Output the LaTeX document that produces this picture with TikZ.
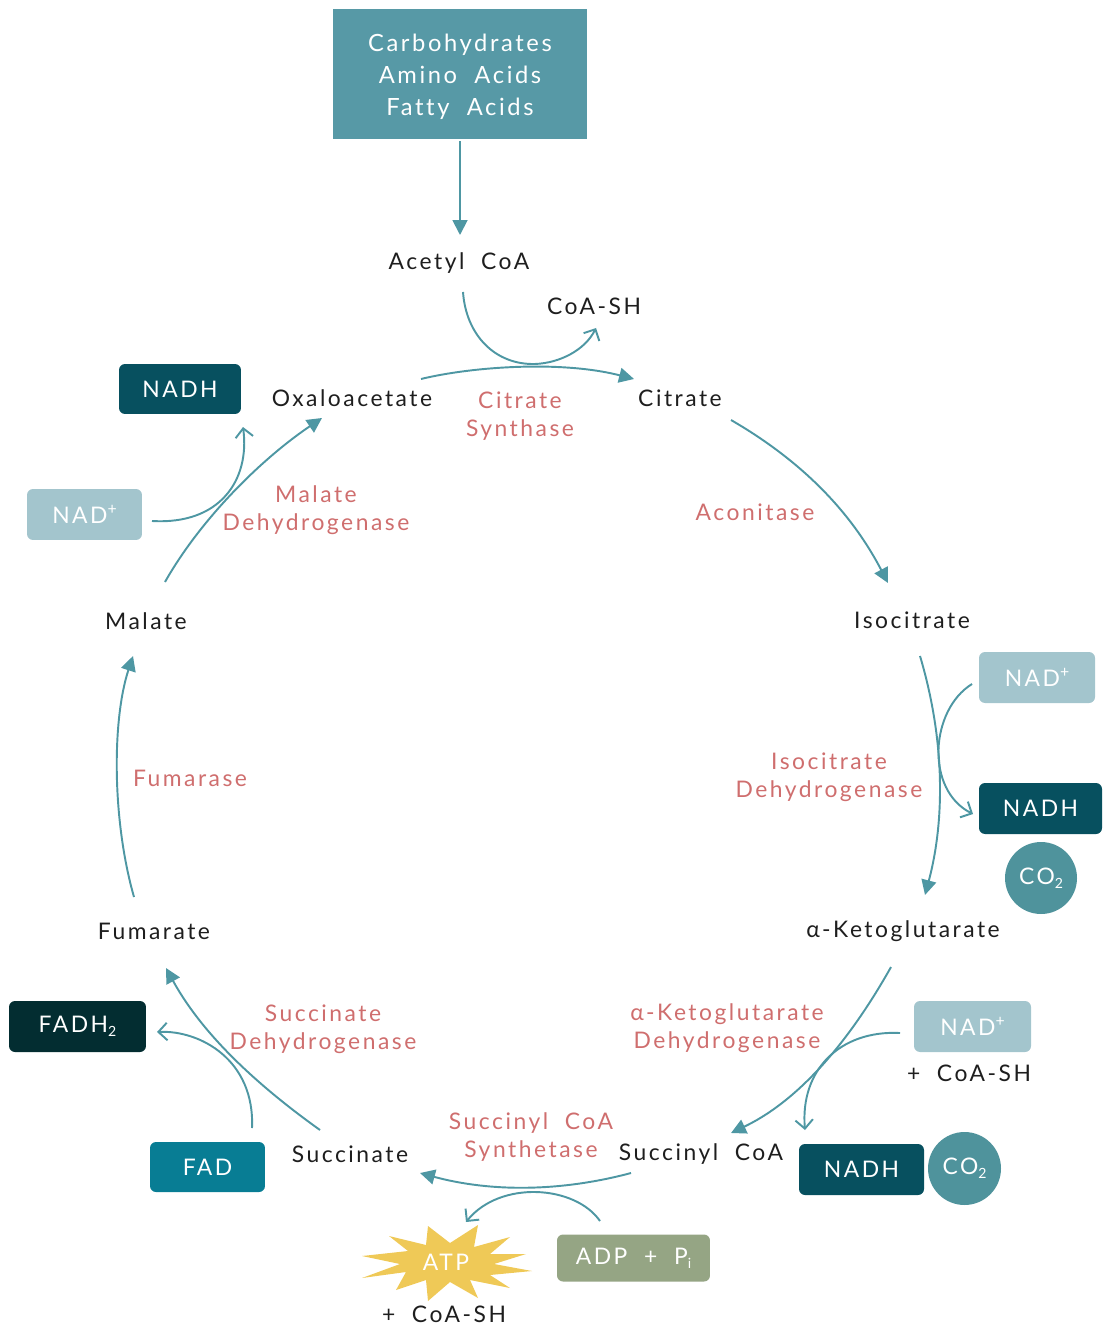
\documentclass[tikz,border=0pt]{standalone}
\usepackage{fontspec}
\setmainfont{Lato}[LetterSpace=11,WordSpace=2,Ligatures={NoCommon}]
\usetikzlibrary{arrows.meta}
\definecolor{linec}{HTML}{4E97A3}
\definecolor{srcc}{HTML}{5799A6}
\definecolor{nadhc}{HTML}{07505F}
\definecolor{nadpc}{HTML}{A3C5CD}
\definecolor{co2c}{HTML}{4F939C}
\definecolor{fadhc}{HTML}{032D31}
\definecolor{fadc}{HTML}{087D94}
\definecolor{adpc}{HTML}{95A584}
\definecolor{atpc}{HTML}{EFC957}
\definecolor{enzc}{HTML}{CF6E6E}
\definecolor{txtc}{HTML}{1E1E1E}
\newcommand\mysub[1]{\raisebox{-0.35ex}{\fontsize{8}{8}\selectfont #1}}
\newcommand\mysup[1]{\raisebox{0.8ex}{\fontsize{9}{9}\selectfont #1}}
\begin{document}
\begin{tikzpicture}[x=0.02cm,y=-0.02cm,
  met/.style={text=txtc, font=\fontsize{13}{16}\selectfont, inner sep=0pt},
  enz/.style={text=enzc, align=center, font=\fontsize{13}{16}\selectfont, inner sep=0pt},
  pill/.style n args={3}{fill=#1, text=white, rounded corners=0.12cm, inner sep=0pt,
     minimum width=#2, minimum height=#3, font=\fontsize{13}{16}\selectfont},
  disc/.style={circle, fill=co2c, text=white, inner sep=0pt, minimum size=1.44cm,
     font=\fontsize{13}{16}\selectfont},
  mainarr/.style={draw=linec, line width=1.1pt, -{Triangle[length=8.5pt,width=8.5pt]}},
  sidearr/.style={draw=linec, line width=1.1pt, -{Straight Barb[length=5pt,width=10pt]}}]
\useasboundingbox (0,0) rectangle (1102,1327);

% source box
\node[fill=srcc, minimum width=5.08cm, minimum height=2.6cm, inner sep=0pt] (src) at (460,74) {};
\node[text=white, align=center, inner sep=0pt, font=\fontsize{13.5}{18.2}\selectfont] (srctext) at (460,77)
  {Carbohydrates\\Amino Acids\\Fatty Acids};

% metabolites
\node[met] (acetyl) at (459,263) {Acetyl CoA};
\node[met] (coash1) at (594,306) {CoA-SH};
\node[met] (oxalo) at (352,398) {Oxaloacetate};
\node[met] (citrate) at (680,398) {Citrate};
\node[met] (isocit) at (912,620) {Isocitrate};
\node[met] (akg) at (903,931) {α-Ketoglutarate};
\node[met] (succoa) at (701,1154) {Succinyl CoA};
\node[met] (succ) at (350,1154) {Succinate};
\node[met] (fum) at (154,931) {Fumarate};
\node[met] (malate) at (146,621) {Malate};

% enzymes
\node[enz] (cs) at (520,416) {Citrate\\Synthase};
\node[enz] (acon) at (755,512) {Aconitase};
\node[enz] (idh) at (829,777) {Isocitrate\\Dehydrogenase};
\node[enz] (akgdh) at (727,1028) {α-Ketoglutarate\\Dehydrogenase};
\node[enz] (scs) at (531,1137) {Succinyl CoA\\Synthetase};
\node[enz] (sdh) at (323,1029) {Succinate\\Dehydrogenase};
\node[enz] (fumase) at (190,778) {Fumarase};
\node[enz] (mdh) at (316,510) {Malate\\Dehydrogenase};

% cofactors
\node[pill={nadhc}{2.44cm}{1.0cm}] (nadh1) at (180,389) {NADH};
\node[pill={nadpc}{2.3cm}{1.02cm}] (nadp1) at (84.5,514.5) {NAD\mysup{+}};
\node[pill={nadpc}{2.32cm}{1.02cm}] (nadp2) at (1037,677.5) {NAD\mysup{+}};
\node[pill={nadhc}{2.46cm}{1.02cm}] (nadh2) at (1040.5,808.5) {NADH};
\node[disc] (co2a) at (1041,878) {CO\mysub{2}};
\node[pill={nadpc}{2.34cm}{1.02cm}] (nadp3) at (972.5,1026.5) {NAD\mysup{+}};
\node[met] (coash2) at (969,1073) {+ CoA-SH};
\node[pill={nadhc}{2.5cm}{1.02cm}] (nadh3) at (861.5,1169.5) {NADH};
\node[disc, minimum size=1.46cm] (co2b) at (964.5,1168.5) {CO\mysub{2}};
\node[pill={adpc}{3.06cm}{0.94cm}] (adp) at (633.5,1258) {ADP + P\mysub{i}};
\node[pill={fadhc}{2.74cm}{1.02cm}] (fadh2) at (77.5,1026.5) {FADH\mysub{2}};
\node[pill={fadc}{2.3cm}{1.0cm}] (fad) at (207.5,1167) {FAD};

% ATP star
\coordinate (atpc0) at (446,1262);
\begin{scope}[shift={(atpc0)}]
\fill[atpc] (-84,-6) -- (-38,-11) -- (-57,-26) -- (-20,-17) -- (-18,-36) -- (4,-19)
  -- (32,-37) -- (28,-15) -- (64,-25) -- (44,-8) -- (80,-8) -- (48,2) -- (86,9)
  -- (44,13) -- (64,26) -- (24,18) -- (32,36) -- (4,20) -- (-18,39) -- (-20,18)
  -- (-50,28) -- (-40,10) -- (-84,16) -- (-46,2) -- cycle;
\end{scope}
\node[text=white, inner sep=0pt, font=\fontsize{13}{16}\selectfont] (atp) at (atpc0) {ATP};
\node[met] (coash3) at (444,1314) {+ CoA-SH};

% main cycle arrows
\draw[mainarr] ([shift={(0,2)}]src.south) -- ([shift={(1,-28)}]acetyl.center);
\draw[mainarr] ([shift={(69,-19)}]oxalo.center) .. controls (470,367) and (560,360) .. ([shift={(-46,-19)}]citrate.center);
\draw[mainarr] ([shift={(51,22)}]citrate.center) .. controls (800,460) and (850,510) .. ([shift={(-24,-37)}]isocit.center);
\draw[mainarr] ([shift={(8,36)}]isocit.center) .. controls (945,740) and (945,820) .. ([shift={(22,-36)}]akg.center);
\draw[mainarr] ([shift={(-12,36)}]akg.center) .. controls (850,1040) and (800,1100) .. ([shift={(30,-21)}]succoa.center);
\draw[mainarr] ([shift={(-70,19)}]succoa.center) .. controls (560,1192) and (490,1192) .. ([shift={(70,19)}]succ.center);
\draw[mainarr] ([shift={(-30,-24)}]succ.center) .. controls (250,1080) and (200,1030) .. ([shift={(12,37)}]fum.center);
\draw[mainarr] ([shift={(-20,-34)}]fum.center) .. controls (112,820) and (112,720) .. ([shift={(-13,35)}]malate.center);
\draw[mainarr] ([shift={(19,-39)}]malate.center) .. controls (200,520) and (260,460) .. ([shift={(-30,20)}]oxalo.center);

% side arrows
\draw[sidearr] ([shift={(4,29)}]acetyl.center) .. controls (466,335) and (495,365) .. (535,364)
  .. controls (560,363) and (585,350) .. ([shift={(2,22)}]coash1.center);
\draw[sidearr] ([shift={(-65,6.5)}]nadp2.center) .. controls (930,710) and (925,790) .. ([shift={(-67.5,5.5)}]nadh2.center);
\draw[sidearr] ([shift={(-72.5,6.5)}]nadp3.center) .. controls (840,1030) and (800,1070) .. ([shift={(-56.5,-39.5)}]nadh3.center);
\draw[sidearr] ([shift={(-33.5,-37)}]adp.center) .. controls (575,1185) and (500,1180) .. ([shift={(20,-40)}]atp.center);
\draw[sidearr] ([shift={(44.5,-39)}]fad.center) .. controls (255,1060) and (200,1030) .. ([shift={(79.5,5.5)}]fadh2.center);
\draw[sidearr] ([shift={(67.5,6.5)}]nadp1.center) .. controls (220,525) and (250,480) .. ([shift={(63,38)}]nadh1.center);
\end{tikzpicture}
\end{document}
